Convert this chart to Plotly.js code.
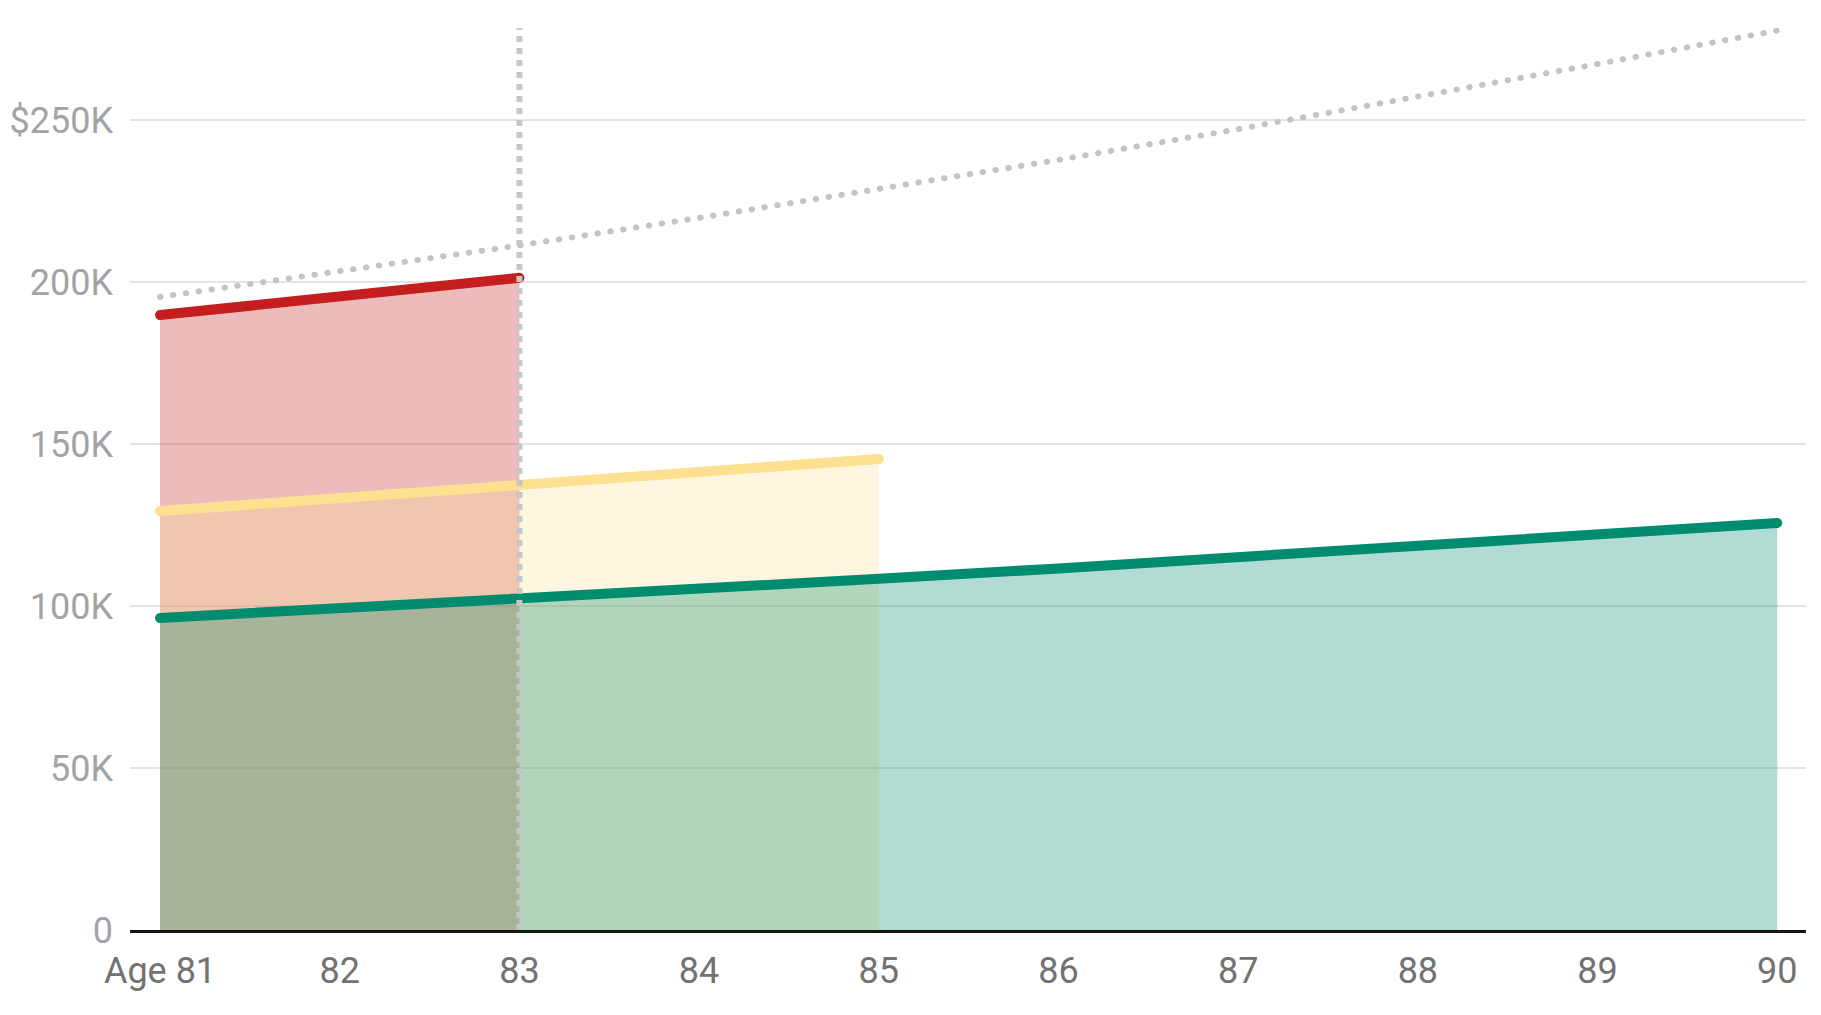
<!DOCTYPE html>
<html>
<head>
<meta charset="utf-8">
<script src="https://cdn.plot.ly/plotly-3.0.1.min.js"></script>
<style>
  html, body { margin: 0; padding: 0; background: #ffffff; }
  #chart { width: 1821px; height: 1015px; }
  .scatterlayer .js-line { stroke-linecap: round; }
</style>
</head>
<body>
<div id="chart"></div>
<script>
// Ages (x) and tick labels
const ages = [81, 82, 83, 84, 85, 86, 87, 88, 89, 90];
const xTickLabels = ["Age 81", "82", "83", "84", "85", "86", "87", "88", "89", "90"];

// Values in $K
const redAges = [81, 82, 83];
const redValues = [189.8, 195.5, 201.3];

const yellowAges = [81, 82, 83, 84, 85];
const yellowValues = [129.3, 133.2, 137.2, 141.3, 145.4];

const greenAges = [81, 82, 83, 84, 85, 86, 87, 88, 89, 90];
const greenValues = [96.3, 99.2, 102.2, 105.2, 108.4, 111.6, 115.0, 118.4, 122.0, 125.6];

const trendAges = [81, 82, 83, 84, 85, 86, 87, 88, 89, 90];
const trendValues = [195.4, 203.2, 211.3, 219.8, 228.6, 237.7, 247.2, 257.1, 267.3, 277.6];

const currentAge = 83;

const yTickVals = [0, 50, 100, 150, 200, 250];
const yTickLabels = ["0", "50K", "100K", "150K", "200K", "$250K"];

const traces = [
  {
    x: redAges, y: redValues, type: "scatter", mode: "lines",
    fill: "tozeroy", fillcolor: "rgba(196,30,30,0.3)",
    line: { color: "#c41e1e", width: 10 }, hoverinfo: "skip"
  },
  {
    x: yellowAges, y: yellowValues, type: "scatter", mode: "lines",
    fill: "tozeroy", fillcolor: "rgba(253,225,145,0.3)",
    line: { color: "#fde191", width: 10 }, hoverinfo: "skip"
  },
  {
    x: greenAges, y: greenValues, type: "scatter", mode: "lines",
    fill: "tozeroy", fillcolor: "rgba(0,140,110,0.3)",
    line: { color: "#008c6e", width: 10 }, hoverinfo: "skip"
  },
  {
    x: trendAges, y: trendValues, type: "scatter", mode: "lines",
    line: { color: "#c4c4c4", width: 6, dash: "0.5px,12.5px" }, hoverinfo: "skip"
  }
];

const layout = {
  width: 1821, height: 1015,
  margin: { l: 130, r: 15, t: 28, b: 85 },
  paper_bgcolor: "#ffffff", plot_bgcolor: "#ffffff",
  showlegend: false,
  font: { family: "Roboto, sans-serif" },
  xaxis: {
    range: [80.833, 90.16],
    tickmode: "array", tickvals: ages, ticktext: xTickLabels,
    showgrid: false, zeroline: false,
    showline: true, linecolor: "#151515", linewidth: 3,
    ticks: "", ticklabelstandoff: 7,
    tickfont: { family: "Roboto, sans-serif", size: 36, color: "#727272" },
    fixedrange: true
  },
  yaxis: {
    range: [0, 278.4],
    tickmode: "array", tickvals: yTickVals, ticktext: yTickLabels,
    showgrid: true, gridcolor: "#e4e4e4", gridwidth: 2,
    zeroline: false, showline: false, ticks: "",
    ticklabelstandoff: 16,
    tickfont: { family: "Roboto, sans-serif", size: 36, color: "#a3a3a3" },
    fixedrange: true
  },
  shapes: [
    {
      type: "line", xref: "x", yref: "paper",
      x0: currentAge, x1: currentAge, y0: 0, y1: 1,
      line: { color: "#c6c6c6", width: 6, dash: "6px,6px" },
      layer: "above"
    }
  ]
};

Plotly.newPlot("chart", traces, layout, { displayModeBar: false, staticPlot: true });
</script>
</body>
</html>
